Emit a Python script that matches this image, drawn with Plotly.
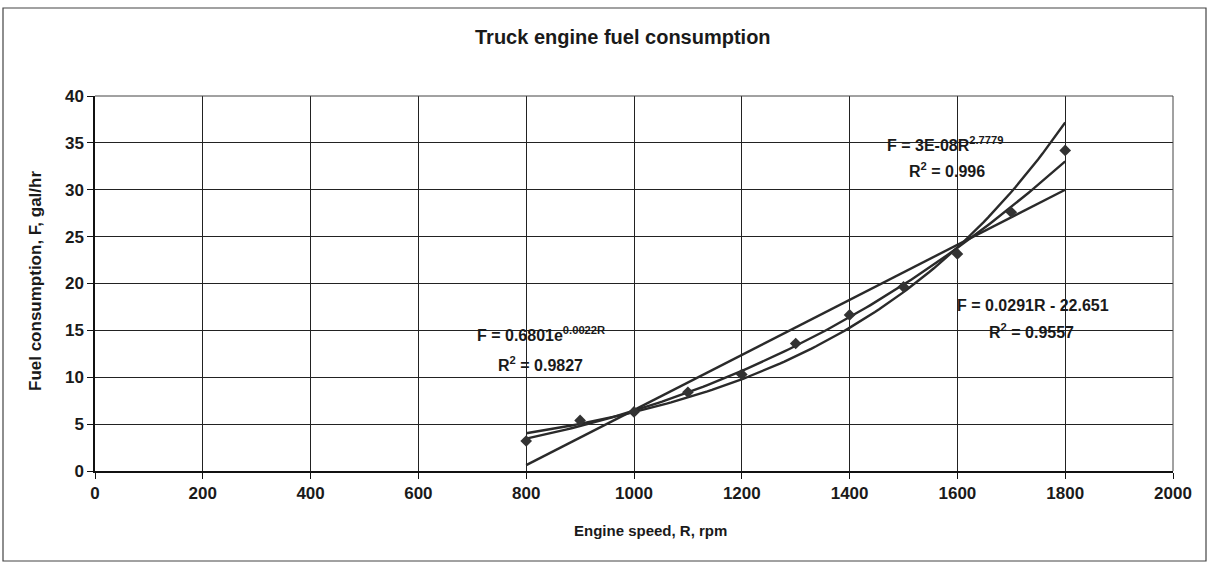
import numpy as np
import plotly.graph_objects as go

# Data
rpm = [800, 900, 1000, 1100, 1200, 1300, 1400, 1500, 1600, 1700, 1800]
fuel = [3.2, 5.4, 6.3, 8.4, 10.3, 13.6, 16.65, 19.65, 23.15, 27.6, 34.2]

x_ticks = [0, 200, 400, 600, 800, 1000, 1200, 1400, 1600, 1800, 2000]
y_ticks = [0, 5, 10, 15, 20, 25, 30, 35, 40]

title_text = "Truck engine fuel consumption"
x_title = "Engine speed, R, rpm"
y_title = "Fuel consumption, F, gal/hr"

eq_exp = "F = 0.6801e<sup>0.0022R</sup>"
r2_exp = "R<sup>2</sup> = 0.9827"
eq_pow = "F = 3E-08R<sup>2.7779</sup>"
r2_pow = "R<sup>2</sup> = 0.996"
eq_lin = "F = 0.0291R - 22.651"
r2_lin = "R<sup>2</sup> = 0.9557"

# Trendlines fitted from the data (least squares, as in a spreadsheet)
R = np.array(rpm, dtype=float)
Fv = np.array(fuel, dtype=float)
lin_c = np.polyfit(R, Fv, 1)
exp_c = np.polyfit(R, np.log(Fv), 1)
pow_c = np.polyfit(np.log(R), np.log(Fv), 1)
rs = np.linspace(R.min(), R.max(), 120)
lin_y = np.polyval(lin_c, rs)
exp_y = np.exp(exp_c[1]) * np.exp(exp_c[0] * rs)
pow_y = np.exp(pow_c[1]) * rs ** pow_c[0]

FONT = "Liberation Sans, Arial, sans-serif"
INK = "#1a1a1a"
LINE = "#2a2a2a"

fig = go.Figure()
for yy in (lin_y, exp_y, pow_y):
    fig.add_trace(go.Scatter(x=rs, y=yy, mode="lines",
                             line=dict(color=LINE, width=2.4),
                             hoverinfo="skip", showlegend=False))
fig.add_trace(go.Scatter(x=rpm, y=fuel, mode="markers",
                         marker=dict(symbol="diamond", size=9, color="#333333"),
                         showlegend=False))

W, H = 1209, 563
ml, mr, mt, mb = 95, 36, 96, 92
pw, ph = W - ml - mr, H - mt - mb

def px(xp):
    return (xp - ml) / pw

def py(yp):
    return (H - mb - yp) / ph

fig.update_layout(
    width=W, height=H,
    margin=dict(l=ml, r=mr, t=mt, b=mb),
    paper_bgcolor="white", plot_bgcolor="white",
    font=dict(family=FONT, color=INK, size=16),
    xaxis=dict(range=[0, 2000], tickvals=x_ticks,
               ticktext=["<b>%d</b>" % v for v in x_ticks],
               showgrid=True, gridcolor="#222222", gridwidth=1,
               showline=True, linecolor="#111111", linewidth=1.5, mirror=False,
               ticks="outside", ticklen=6, tickcolor="#111111",
               tickfont=dict(size=17, color=INK), zeroline=False),
    yaxis=dict(range=[0, 40], tickvals=y_ticks,
               ticktext=["<b>%d</b>" % v for v in y_ticks],
               showgrid=True, gridcolor="#222222", gridwidth=1,
               showline=True, linecolor="#111111", linewidth=1.5,
               ticks="outside", ticklen=6, tickcolor="#111111",
               tickfont=dict(size=17, color=INK), zeroline=False),
    shapes=[
        dict(type="rect", xref="paper", yref="paper",
             x0=px(3), x1=px(1206), y0=py(561), y1=py(8),
             line=dict(color="#444444", width=1.2), layer="below"),
        dict(type="line", xref="paper", yref="paper",
             x0=1, x1=1, y0=0, y1=1, line=dict(color="#444444", width=1)),
        dict(type="line", xref="paper", yref="paper",
             x0=0, x1=1, y0=1, y1=1, line=dict(color="#444444", width=1)),
    ],
)

def ann(text, xc, yc, size=16, bold=True, angle=0):
    t = "<b>" + text + "</b>" if bold else text
    fig.add_annotation(text=t, x=px(xc), y=py(yc), xref="paper", yref="paper",
                       showarrow=False, xanchor="center", yanchor="middle",
                       textangle=angle, font=dict(size=size, color=INK, family=FONT))

ann(title_text, 623, 37, size=20)
ann(eq_exp, 541, 334)
ann(r2_exp, 540, 364)
ann(eq_pow, 945, 144)
ann(r2_pow, 947, 170)
ann(eq_lin, 1033, 305)
ann(r2_lin, 1031, 331)
ann(x_title, 650, 530, size=15)
ann(y_title, 35, 281, size=17, angle=-90)

fig.write_html("out.html", config={"displayModeBar": False},
               post_script="document.body.style.margin='0';document.body.style.overflow='hidden';")
